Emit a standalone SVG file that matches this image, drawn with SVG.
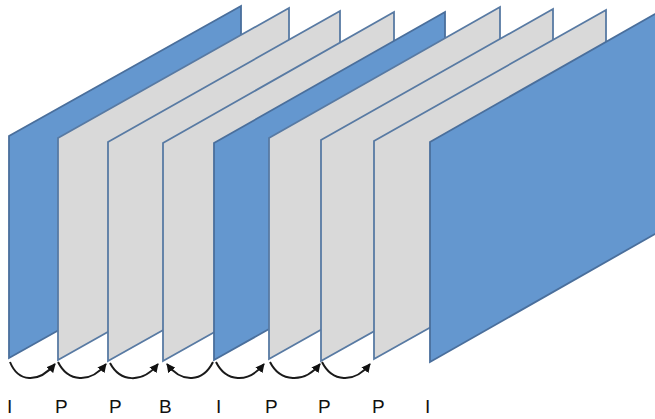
<svg xmlns="http://www.w3.org/2000/svg" width="655" height="419" viewBox="0 0 655 419">
<defs>
<style>
.i{fill:#6497cf;stroke:#4a6f9c;stroke-width:1.8;stroke-linejoin:miter}
.p{fill:#d9d9d9;stroke:#587aa3;stroke-width:1.8;stroke-linejoin:miter}
.a{fill:none;stroke:#1a1a1a;stroke-width:2;marker-end:url(#ah)}
.t{font-family:"Liberation Sans",Arial,sans-serif;font-size:19px;fill:#111}
</style>
<marker id="ah" viewBox="0 0 10 10" refX="9" refY="5" markerWidth="4.5" markerHeight="4.5" orient="auto" markerUnits="strokeWidth">
<path d="M0,0 L10,5 L0,10 Z" fill="#111"/>
</marker>
</defs>
<g id="frame1"><path class="i" d="M9,358 L9,136 L241,6 L241,228 Z"/></g>
<g id="frame2"><path class="p" d="M58,360 L58,138 L289,8 L289,230 Z"/></g>
<g id="frame3"><path class="p" d="M108,361 L108,142 L340,11 L340,231 Z"/></g>
<g id="frame4"><path class="p" d="M163,361 L163,143 L394,12 L394,231 Z"/></g>
<g id="frame5"><path class="i" d="M214,360 L214,143 L445,12 L445,230 Z"/></g>
<g id="frame6"><path class="p" d="M269,359 L269,138 L500,7 L500,229 Z"/></g>
<g id="frame7"><path class="p" d="M321,361 L321,140 L553,9 L553,231 Z"/></g>
<g id="frame8"><path class="p" d="M374,359 L374,141 L606,10 L606,229 Z"/></g>
<g id="frame9"><path class="i" d="M430,362 L430,142 L662,10 L662,230 Z"/></g>
<g id="connectors">
<path class="a" d="M10,362 C18,382 38,384 55,364"/>
<path class="a" d="M58,362 C68,382 90,384 106,364"/>
<path class="a" d="M110,363 C120,382 142,384 158,364"/>
<path class="a" d="M213,362 C203,382 182,384 167,364"/>
<path class="a" d="M216,362 C226,382 248,384 264,364"/>
<path class="a" d="M270,362 C280,382 304,384 320,364"/>
<path class="a" d="M322,362 C332,382 354,384 370,364"/>
</g>
<g id="labels">
<text class="t" x="7" y="413">I</text>
<text class="t" x="55" y="413">P</text>
<text class="t" x="109" y="413">P</text>
<text class="t" x="159" y="413">B</text>
<text class="t" x="216" y="413">I</text>
<text class="t" x="265" y="413">P</text>
<text class="t" x="318" y="413">P</text>
<text class="t" x="372" y="413">P</text>
<text class="t" x="425" y="413">I</text>
</g>
</svg>
